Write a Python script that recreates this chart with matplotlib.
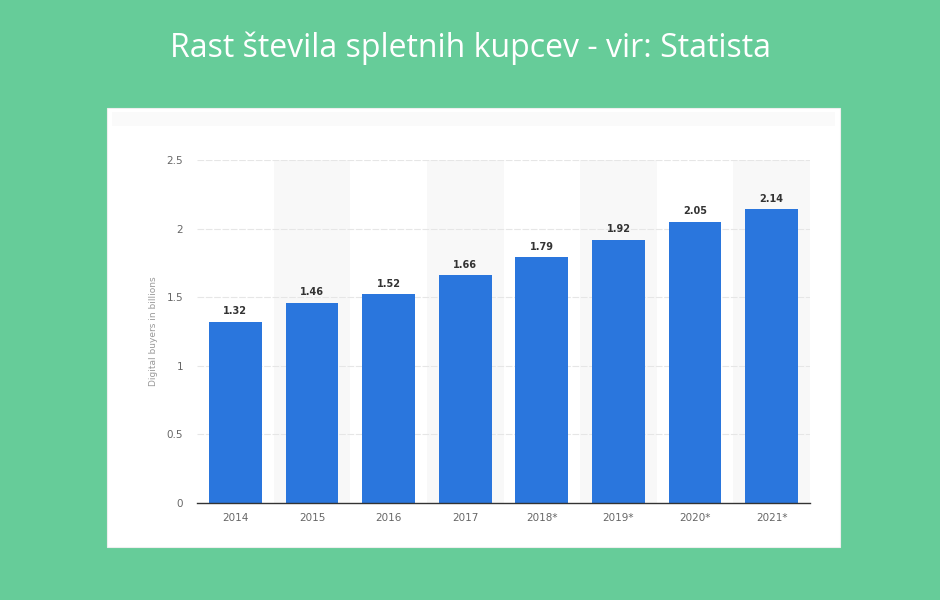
import matplotlib.pyplot as plt
from matplotlib.patches import Rectangle

# data
years = ["2014", "2015", "2016", "2017", "2018*", "2019*", "2020*", "2021*"]
buyers = [1.32, 1.46, 1.52, 1.66, 1.79, 1.92, 2.05, 2.14]
y_ticks = [0, 0.5, 1, 1.5, 2, 2.5]
y_tick_labels = ["0", "0.5", "1", "1.5", "2", "2.5"]

title = "Rast števila spletnih kupcev - vir: Statista"
y_label = "Digital buyers in billions"

green = "#66CC99"
blue = "#2A76DD"

fig = plt.figure(figsize=(9.4, 6), dpi=100)
fig.patch.set_facecolor(green)

# white card behind the chart
fig.patches.append(Rectangle((107 / 940, 1 - 547 / 600), 733 / 940, 439 / 600,
                             transform=fig.transFigure, facecolor="white",
                             edgecolor="#EEEEEE", linewidth=0.8, zorder=-2))
fig.patches.append(Rectangle((112 / 940, 1 - 126 / 600), 723 / 940, 14 / 600,
                             transform=fig.transFigure, facecolor="#FAFAFA",
                             edgecolor="none", zorder=-1))

fig.text(0.5, 1 - 48 / 600, title, color="white", fontsize=23,
         family=["Open Sans", "DejaVu Sans"], ha="center", va="center")

ax = fig.add_axes([197 / 940, 1 - 503 / 600, 613 / 940, 343 / 600])
ax.set_facecolor("none")
ax.set_zorder(1)

x = list(range(len(years)))

# alternating column shading
for i in x:
    if i % 2 == 1:
        ax.axvspan(i - 0.5, i + 0.5, color="#F8F8F8", zorder=0, lw=0)

for v in y_ticks[1:]:
    ax.axhline(v, color="#E6E6E6", lw=0.8, ls=(0, (6, 1.5)), zorder=1)

bars = ax.bar(x, buyers, width=0.69, color=blue, zorder=2)
for b, v in zip(bars, buyers):
    ax.text(b.get_x() + b.get_width() / 2, v + 0.04, f"{v:.2f}",
            ha="center", va="bottom", fontsize=7, fontweight="bold",
            color="#333333", zorder=3)

ax.set_xlim(-0.5, len(years) - 0.5)
ax.set_ylim(0, 2.5)
ax.set_xticks(x)
ax.set_xticklabels(years)
ax.set_yticks(y_ticks)
ax.set_yticklabels(y_tick_labels)
ax.tick_params(axis="both", length=0, labelsize=7.5, colors="#666666")
ax.tick_params(axis="y", pad=10)
ax.tick_params(axis="x", pad=7)

for s in ["top", "right", "left"]:
    ax.spines[s].set_visible(False)
ax.spines["bottom"].set_color("#333333")
ax.spines["bottom"].set_linewidth(1)
ax.spines["bottom"].set_zorder(4)

fig.text(153 / 940, 1 - 331 / 600, y_label, rotation=90, fontsize=6.5,
         color="#999999", ha="center", va="center")

fig.savefig("out.png", dpi=100, facecolor=fig.get_facecolor())
